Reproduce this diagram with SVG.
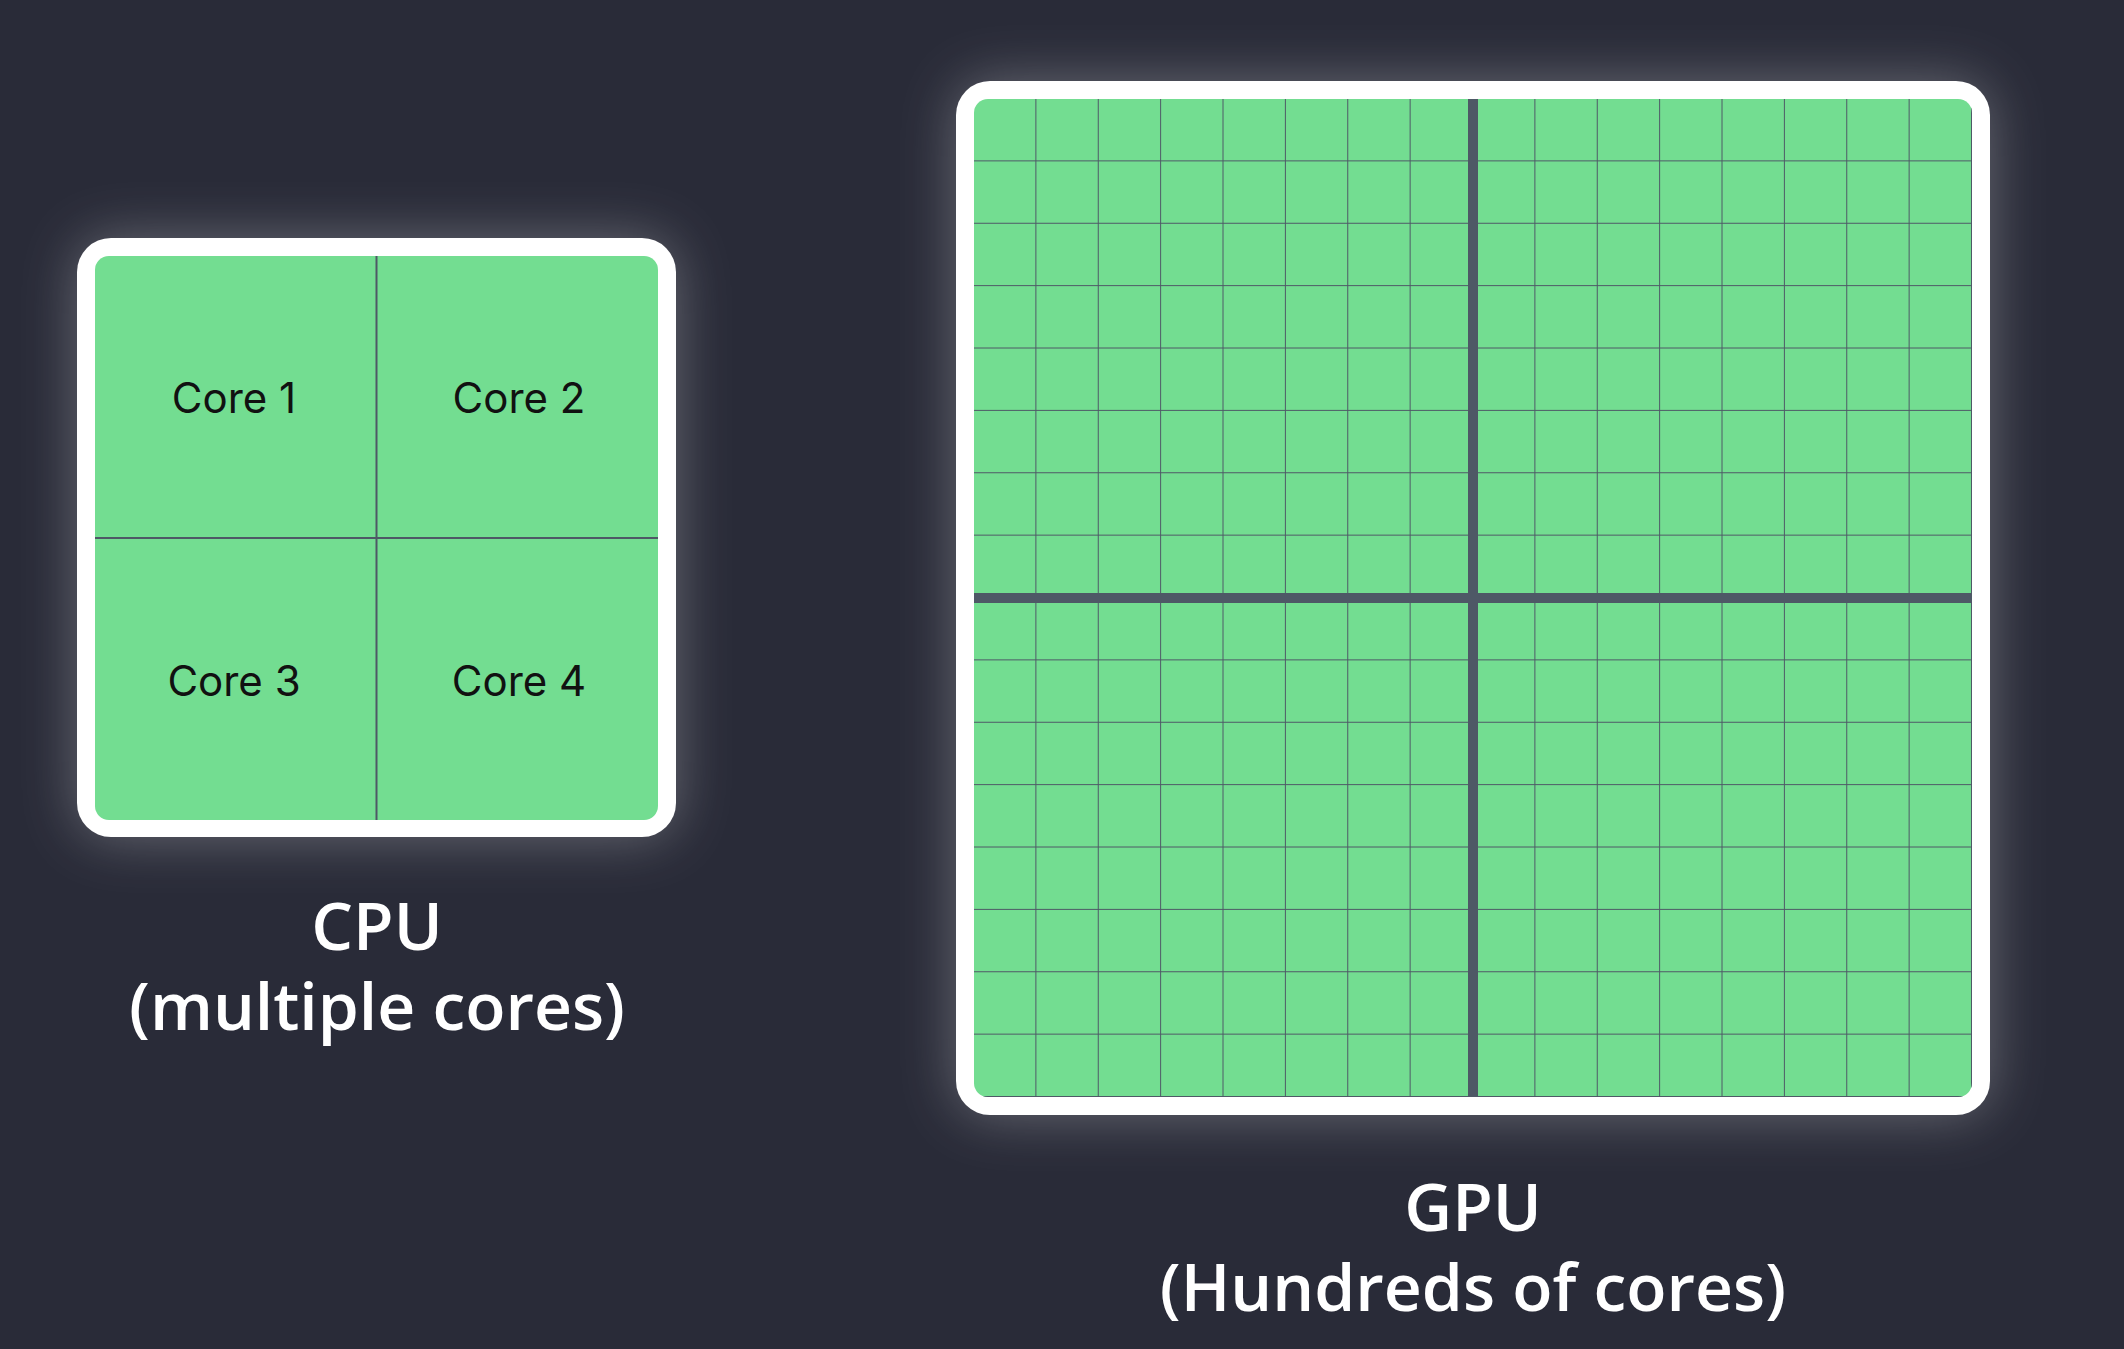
<svg xmlns="http://www.w3.org/2000/svg" width="2124" height="1349" viewBox="0 0 2124 1349">
<style>
.core{font-family:Inter,"Liberation Sans",sans-serif;font-size:42px;fill:#111;text-anchor:middle;dominant-baseline:central}
.lbl{font-family:"Open Sans","Liberation Sans",sans-serif;font-weight:600;font-size:66px;fill:#fff;text-anchor:middle}
.thin{stroke:#4e5866;stroke-width:2}
.thick{stroke:#4e5866;stroke-width:10}
</style>
<defs>
<filter id="glow" x="-20%" y="-20%" width="140%" height="140%">
<feGaussianBlur in="SourceAlpha" stdDeviation="28"/>
<feComponentTransfer><feFuncA type="linear" slope="0.3"/></feComponentTransfer>
<feColorMatrix type="matrix" values="0 0 0 0 1 0 0 0 0 1 0 0 0 0 1 0 0 0 1 0" result="g"/>
<feMerge><feMergeNode in="g"/><feMergeNode in="SourceGraphic"/></feMerge>
</filter>
<pattern id="grid" x="974" y="99" width="62.375" height="62.375" patternUnits="userSpaceOnUse">
<path d="M62.375 0V62.375M0 62.375H62.375" class="thin" fill="none"/>
</pattern>
<clipPath id="gclip"><rect x="974" y="99" width="998" height="998" rx="14"/></clipPath>
</defs>
<rect width="2124" height="1349" fill="#292b38"/>
<g id="cpu">
<rect x="77" y="238" width="599" height="599" rx="34" fill="#fff" filter="url(#glow)"/>
<rect x="95" y="256" width="563" height="564" rx="14" fill="#73dd91"/>
<line x1="376.5" y1="256" x2="376.5" y2="820" class="thin" stroke-width="3"/>
<line x1="95" y1="538" x2="658" y2="538" class="thin" stroke-width="3"/>
<text class="core" x="234" y="397">Core 1</text>
<text class="core" x="519" y="397">Core 2</text>
<text class="core" x="234" y="680">Core 3</text>
<text class="core" x="519" y="680">Core 4</text>
<text class="lbl" x="377" y="950">CPU</text>
<text class="lbl" x="377" y="1030">(multiple cores)</text>
</g>
<g id="gpu">
<rect x="956" y="81" width="1034" height="1034" rx="34" fill="#fff" filter="url(#glow)"/>
<g clip-path="url(#gclip)">
<rect x="974" y="99" width="998" height="998" fill="#73dd91"/>
<rect x="974" y="99" width="998" height="998" fill="url(#grid)"/>
<line x1="1473" y1="99" x2="1473" y2="1097" class="thick"/>
<line x1="974" y1="598" x2="1972" y2="598" class="thick"/>
</g>
<text class="lbl" x="1473" y="1231">GPU</text>
<text class="lbl" x="1473" y="1311">(Hundreds of cores)</text>
</g>
<g id="connectors"/>
</svg>
